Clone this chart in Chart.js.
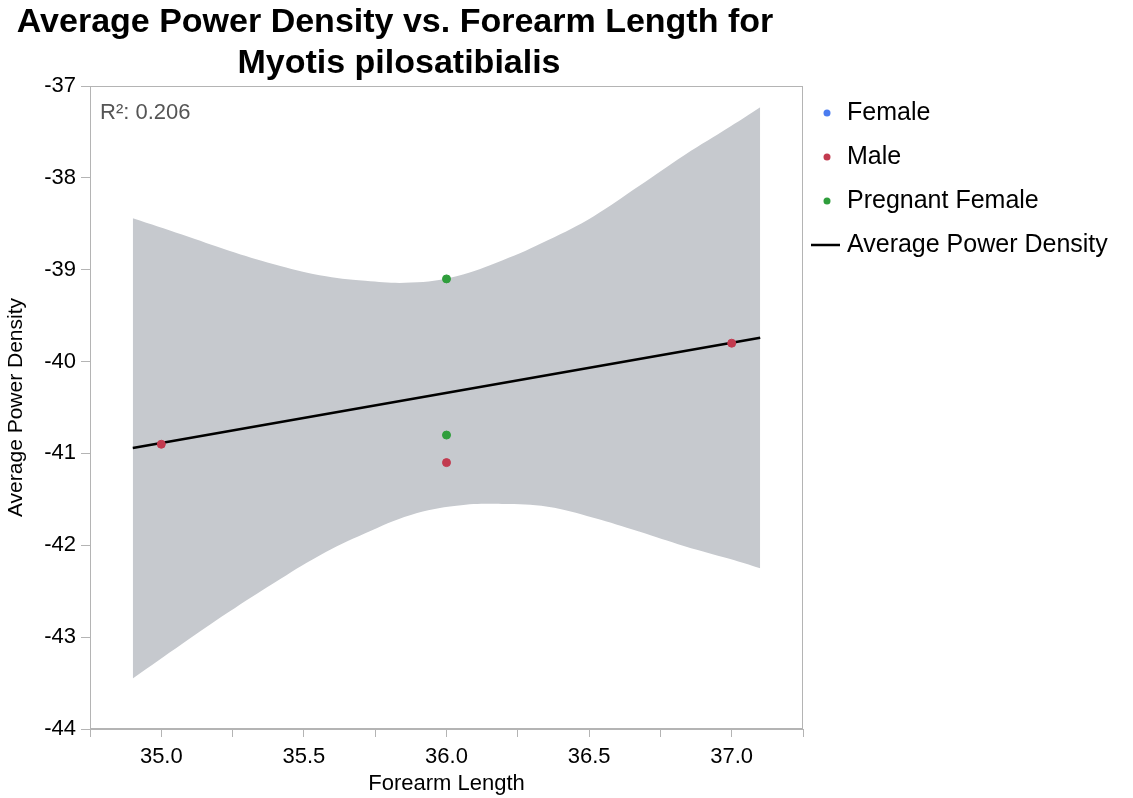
<!DOCTYPE html>
<html>
<head>
<meta charset="utf-8">
<script src="https://cdn.jsdelivr.net/npm/chart.js@4.4.1/dist/chart.umd.min.js"></script>
<style>
  html, body { margin: 0; padding: 0; background: #fff; }
</style>
</head>
<body>
<canvas id="chart" width="1133" height="798"></canvas>
<script>
// chart text
const titleLines = ["Average Power Density vs. Forearm Length for", "Myotis pilosatibialis"];
const rSquaredText = "R\u00b2: 0.206";
const legendNames = ["Female", "Male", "Pregnant Female", "Average Power Density"];

// observations
const femaleX = [];
const femaleY = [];
const maleX = [35.0, 36.0, 37.0];
const maleY = [-40.9, -41.1, -39.8];
const pregnantX = [36.0, 36.0];
const pregnantY = [-39.1, -40.8];

const fitX = [34.9, 37.1];
const fitY = [-40.94, -39.74];

// shaded confidence band
const bandX =     [34.90, 35.075, 35.235, 35.395, 35.555, 35.715, 35.875, 36.035, 36.195, 36.355, 36.515, 36.675, 36.835, 36.995, 37.10];
const bandUpper = [-38.44, -38.62, -38.79, -38.94, -39.06, -39.12, -39.14, -39.07, -38.90, -38.68, -38.42, -38.09, -37.75, -37.44, -37.23];
const bandLower = [-43.45, -43.07, -42.73, -42.41, -42.11, -41.87, -41.67, -41.57, -41.55, -41.58, -41.70, -41.85, -42.01, -42.15, -42.25];

const FONT = "'Liberation Sans', Arial, Helvetica, sans-serif";
const colors = { female: "#4a7cf0", male: "#c23a4f", pregnant: "#2f9e3c", fit: "#000000", band: "#c6c9ce", frame: "#b4b4b4" };
const legendColors = [colors.female, colors.male, colors.pregnant, colors.fit];

function pts(xs, ys) {
  return xs.map((x, i) => ({ x: x, y: ys[i] }));
}

const extras = {
  id: "extras",
  beforeDatasetsDraw(chart) {
    const { ctx, chartArea: a } = chart;
    ctx.save();
    ctx.strokeStyle = colors.frame;
    ctx.lineWidth = 1;
    ctx.strokeRect(a.left + 0.5, a.top + 0.5, a.right - a.left - 1, a.bottom - a.top - 1);
    ctx.restore();
  },
  afterDraw(chart) {
    const { ctx, chartArea: a } = chart;
    ctx.save();
    // title
    ctx.textAlign = "center";
    ctx.textBaseline = "middle";
    ctx.fillStyle = "#000";
    ctx.font = "bold 34px " + FONT;
    ctx.fillText(titleLines[0], 395, 23);
    ctx.fillText(titleLines[1], 399, 64);
    // R squared note
    ctx.textAlign = "left";
    ctx.fillStyle = "#555";
    ctx.font = "22px " + FONT;
    ctx.fillText(rSquaredText, a.left + 10, a.top + 27);
    // legend
    ctx.font = "25px " + FONT;
    legendNames.forEach((name, i) => {
      const y = a.top + 27 + i * 44;
      const x0 = a.right + 8;
      if (i === legendNames.length - 1) {
        ctx.strokeStyle = legendColors[i];
        ctx.lineWidth = 2.5;
        ctx.beginPath();
        ctx.moveTo(x0, y);
        ctx.lineTo(x0 + 29, y);
        ctx.stroke();
      } else {
        ctx.fillStyle = legendColors[i];
        ctx.beginPath();
        ctx.arc(x0 + 16, y, 3.5, 0, Math.PI * 2);
        ctx.fill();
      }
      ctx.fillStyle = "#000";
      ctx.fillText(name, x0 + 36, y);
    });
    ctx.restore();
  }
};

new Chart(document.getElementById("chart"), {
  type: "scatter",
  data: {
    datasets: [
      { label: legendNames[0], data: pts(femaleX, femaleY), backgroundColor: colors.female, borderColor: colors.female, pointRadius: 4 },
      { label: legendNames[1], data: pts(maleX, maleY), backgroundColor: colors.male, borderColor: colors.male, pointRadius: 4 },
      { label: legendNames[2], data: pts(pregnantX, pregnantY), backgroundColor: colors.pregnant, borderColor: colors.pregnant, pointRadius: 4 },
      { label: legendNames[3], data: pts(fitX, fitY), showLine: true, borderColor: colors.fit, borderWidth: 2.6, pointRadius: 0 },
      { label: "band-lower", data: pts(bandX, bandLower), showLine: true, borderWidth: 0, pointRadius: 0,
        tension: 0.4, fill: false },
      { label: "band-upper", data: pts(bandX, bandUpper), showLine: true, borderWidth: 0, pointRadius: 0,
        tension: 0.4, fill: { target: "-1" }, backgroundColor: colors.band }
    ]
  },
  options: {
    responsive: false,
    animation: false,
    events: [],
    layout: { padding: { top: 86, right: 330, bottom: 0, left: 0 } },
    plugins: {
      title: { display: false },
      tooltip: { enabled: false },
      legend: { display: false }
    },
    scales: {
      x: {
        type: "linear",
        min: 34.75,
        max: 37.25,
        afterFit: s => { s.height = 69; },
        grid: { drawOnChartArea: false, drawTicks: true, tickLength: 8, color: colors.frame },
        border: { display: true, color: colors.frame },
        ticks: {
          stepSize: 0.25,
          autoSkip: false,
          maxRotation: 0,
          padding: 7,
          color: "#000",
          font: { family: FONT, size: 22 },
          callback: v => (Math.abs(v * 2 - Math.round(v * 2)) < 1e-6 && v >= 35 && v <= 37) ? v.toFixed(1) : ""
        },
        title: { display: true, text: "Forearm Length", color: "#000", font: { family: FONT, size: 22 }, padding: { top: 0, bottom: 1 } }
      },
      y: {
        type: "linear",
        min: -44,
        max: -37,
        afterFit: s => { s.width = 90; },
        grid: { drawOnChartArea: false, drawTicks: true, tickLength: 9, color: colors.frame },
        border: { display: true, color: colors.frame },
        ticks: { stepSize: 1, padding: 5, color: "#000", font: { family: FONT, size: 22 } },
        title: { display: true, text: "Average Power Density", color: "#000", font: { family: FONT, size: 21 }, padding: { top: 4, bottom: 0 } }
      }
    }
  },
  plugins: [extras]
});
</script>
</body>
</html>
